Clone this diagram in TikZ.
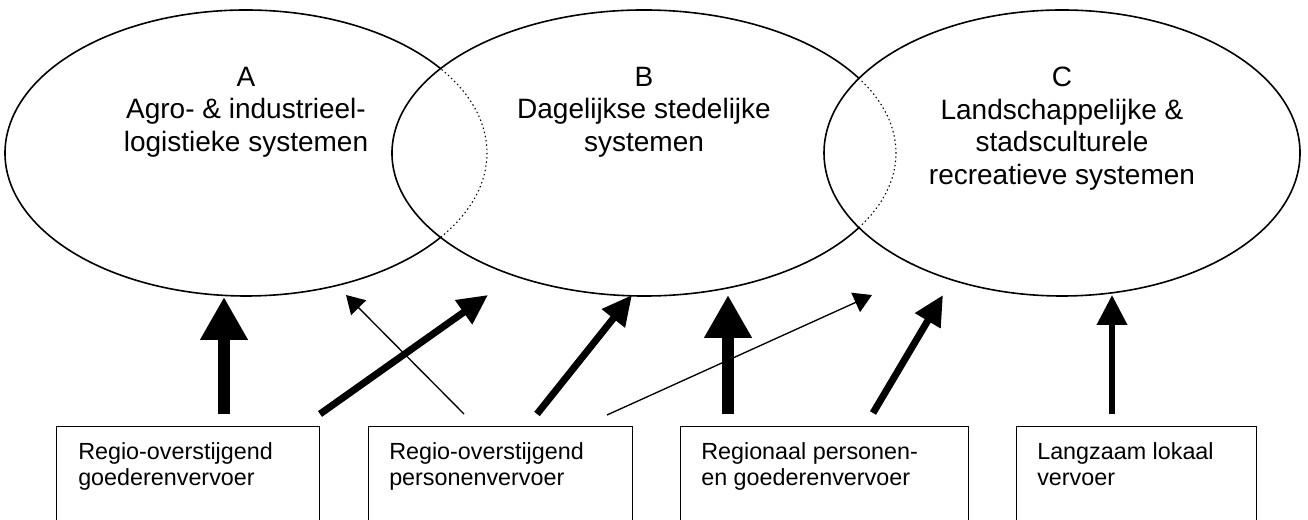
\documentclass[tikz,border=0pt]{standalone}
\usepackage{fontspec}
\setmainfont{Liberation Sans}
\usetikzlibrary{arrows.meta,calc}
\tikzset{
  ell/.style={line width=1.2pt},
  elldot/.style={line width=0.8pt, dash pattern=on 1.1pt off 2.1pt},
  ebox/.style={draw, line width=1pt, minimum width=#1, minimum height=97.5pt, anchor=north west, inner sep=0pt},
  etext/.style={font=\fontsize{21pt}{24.3pt}\selectfont, align=center, anchor=north, inner sep=0pt},
  btext/.style={font=\fontsize{17.5pt}{20pt}\selectfont, align=left, anchor=north west, inner sep=0pt},
  heavy/.style={line width=9pt, -{Triangle[width=33.75pt, length=32.25pt]}},
  medium/.style={line width=5.25pt, -{Triangle[width=21pt, length=22.5pt]}},
  slim/.style={line width=4.5pt, -{Triangle[width=22pt, length=22.5pt]}},
  thin/.style={line width=1pt, -{Triangle[width=15.75pt, length=13.5pt]}}
}
\begin{document}
\begin{tikzpicture}[x=0.75pt, y=0.75pt]
\useasboundingbox (0,0) rectangle (1308,520);
\clip (0,0) rectangle (1308,520);
% ellipses
\draw[ell] (246,367) ++(36.1:241 and 143) arc[start angle=36.1, end angle=323.9, x radius=241, y radius=143];
\draw[elldot] (246,367) ++(-36.1:241 and 143) arc[start angle=-36.1, end angle=36.1, x radius=241, y radius=143];
\draw[ell] (644,367) ++(31.5:252 and 143) arc[start angle=31.5, end angle=328.5, x radius=252, y radius=143];
\draw[elldot] (644,367) ++(-31.5:252 and 143) arc[start angle=-31.5, end angle=31.5, x radius=252, y radius=143];
\draw[ell] (1062,367) ellipse[x radius=238, y radius=143];
% ellipse texts
\node[etext] (A) at (246,453) {A\\Agro- \& industrieel-\\logistieke systemen};
\node[etext] (B) at (644,453) {B\\Dagelijkse stedelijke\\systemen};
\node[etext] (C) at (1062,453) {C\\Landschappelijke \&\\stadsculturele\\recreatieve systemen};
% boxes
\node[ebox=197.25pt] (b1) at (56,94) {};
\node[ebox=198pt] (b2) at (368,94) {};
\node[ebox=216pt] (b3) at (680,94) {};
\node[ebox=180pt] (b4) at (1016,94) {};
\node[btext] (t1) at ($(b1.north west)+(22,-16)$) {Regio-overstijgend\\goederenvervoer};
\node[btext] (t2) at ($(b2.north west)+(21,-16)$) {Regio-overstijgend\\personenvervoer};
\node[btext] (t3) at ($(b3.north west)+(21,-16)$) {Regionaal personen-\\en goederenvervoer};
\node[btext] (t4) at ($(b4.north west)+(21,-16)$) {Langzaam lokaal\\vervoer};
% arrow end points
\coordinate (s1) at (224,106);
\coordinate (s2) at (320,106);
\coordinate (s3) at (464,106);
\coordinate (s4) at (537,106);
\coordinate (s5) at (607,105);
\coordinate (s6) at (728,106);
\coordinate (s7) at (873,107);
\coordinate (s8) at (1112,106);
\coordinate (e1) at (224,223);
\coordinate (e2) at (488,225);
\coordinate (e3) at (346,225);
\coordinate (e4) at (632,225);
\coordinate (e5) at (872,225);
\coordinate (e6) at (728,225);
\coordinate (e7) at (943,225);
\coordinate (e8) at (1112,225);
\draw[heavy] (s1) -- (e1);
\draw[medium] (s2) -- (e2);
\draw[thin] (s3) -- (e3);
\draw[medium] (s4) -- (e4);
\draw[thin] (s5) -- (e5);
\draw[heavy] (s6) -- (e6);
\draw[medium] (s7) -- (e7);
\draw[slim] (s8) -- (e8);
\end{tikzpicture}
\end{document}
